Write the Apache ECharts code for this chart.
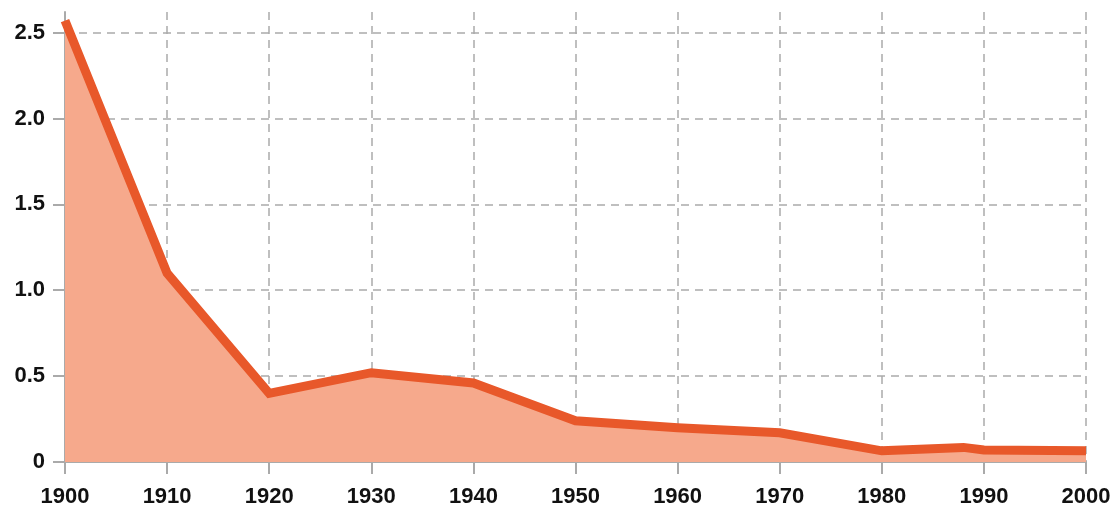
<!DOCTYPE html>
<html lang="en">
<head>
    <meta charset="UTF-8">
    <title>Chart</title>
    <script src="https://cdn.jsdelivr.net/npm/echarts@6/dist/echarts.min.js"></script>
    <style>
        html, body { margin: 0; padding: 0; background: #fff; }
        #main { width: 1120px; height: 516px; }
    </style>
</head>
<body>
    <div id="main"></div>
    <script>
        // data
        var years = [1900, 1910, 1920, 1930, 1940, 1950, 1960, 1970, 1980, 1988, 1990, 2000];
        var values = [2.57, 1.10, 0.40, 0.52, 0.46, 0.24, 0.20, 0.17, 0.065, 0.085, 0.07, 0.065];
        var yTicks = ['0', '0.5', '1.0', '1.5', '2.0', '2.5'];

        var points = [];
        for (var i = 0; i < years.length; i++) {
            points.push([years[i], values[i]]);
        }

        var myChart = echarts.init(document.getElementById('main'));
        var labelFont = { color: '#111', fontSize: 22, fontWeight: 'bold', fontFamily: 'Liberation Sans, Arial, sans-serif' };

        var option = {
            animation: false,
            grid: { left: 65, right: 34, top: 12, bottom: 54 },
            xAxis: {
                type: 'value',
                min: 1900,
                max: 2000,
                interval: 10,
                axisLine: { show: true, lineStyle: { color: '#aaa', width: 2 } },
                axisTick: { show: true, length: 12, lineStyle: { color: '#aaa', width: 2 } },
                axisLabel: Object.assign({
                    margin: 24,
                    formatter: function (v) { return String(v); }
                }, labelFont),
                splitLine: {
                    show: true,
                    showMinLine: false,
                    lineStyle: { color: '#aaa', type: [8, 6], width: 1.5 }
                }
            },
            yAxis: {
                type: 'value',
                min: 0,
                max: 2.62,
                interval: 0.5,
                axisLine: { show: true, lineStyle: { color: '#aaa', width: 2 } },
                axisTick: { show: true, length: 12, lineStyle: { color: '#aaa', width: 2 } },
                axisLabel: Object.assign({
                    margin: 20,
                    showMaxLabel: false,
                    formatter: function (v) {
                        var idx = Math.round(v / 0.5);
                        return Math.abs(v - idx * 0.5) < 1e-6 ? yTicks[idx] : '';
                    }
                }, labelFont),
                splitLine: {
                    show: true,
                    showMinLine: false,
                    showMaxLine: false,
                    lineStyle: { color: '#aaa', type: [8, 6], width: 1.5 }
                }
            },
            series: [{
                type: 'line',
                data: points,
                symbol: 'none',
                lineStyle: { color: '#E8582A', width: 9, join: 'miter' },
                areaStyle: { color: '#F6A98C', opacity: 1 }
            }]
        };
        myChart.setOption(option);
    </script>
</body>
</html>
